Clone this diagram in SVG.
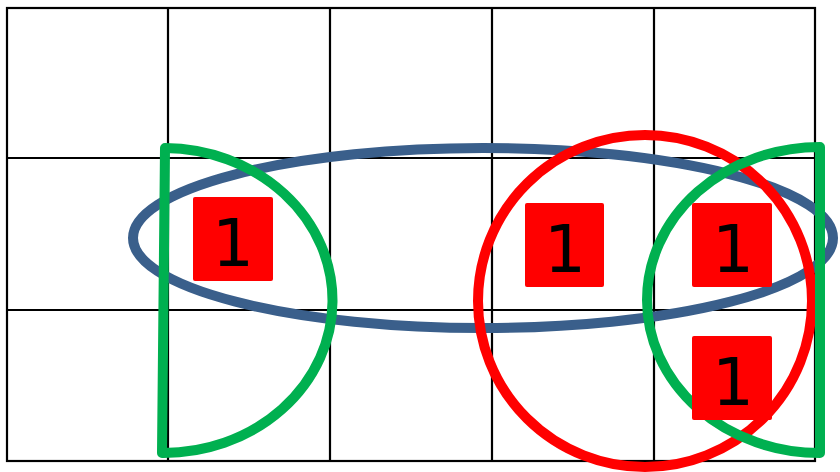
<svg xmlns="http://www.w3.org/2000/svg" width="840" height="472" viewBox="0 0 840 472">
<style>
.grid{stroke:#000;stroke-width:2.2;fill:none}
.blue{stroke:#3A5F8B;stroke-width:10;fill:none}
.red{stroke:#FF0000;stroke-width:10;fill:none}
.green{stroke:#00B050;stroke-width:10;fill:none;stroke-linejoin:round}
.cell{fill:#FF0000}
.one{font-family:"DejaVu Sans",sans-serif;font-size:66px;fill:#000;text-anchor:middle}
</style>
<rect width="840" height="472" fill="#fff"/>
<g id="grid" class="grid">
<rect x="7" y="8" width="808" height="453"/>
<line x1="168" y1="8" x2="168" y2="461"/>
<line x1="330" y1="8" x2="330" y2="461"/>
<line x1="492" y1="8" x2="492" y2="461"/>
<line x1="654" y1="8" x2="654" y2="461"/>
<line x1="7" y1="158" x2="815" y2="158"/>
<line x1="7" y1="310" x2="815" y2="310"/>
</g>
<g id="connectors">
<ellipse id="blue-loop" class="blue" cx="483" cy="238" rx="350" ry="90"/>
<ellipse id="red-loop" class="red" cx="645" cy="301" rx="167" ry="166"/>
<path id="green-left" class="green" d="M165,148 A169,152.5 0 0 1 162,453 Z"/>
<path id="green-right" class="green" d="M820,147 A173,153 0 0 0 820,453 Z"/>
</g>
<g id="cell1"><rect class="cell" x="193" y="197" width="80" height="84" rx="2"/><text class="one" x="233" y="266">1</text></g>
<g id="cell2"><rect class="cell" x="525" y="203" width="79" height="84" rx="2"/><text class="one" x="565" y="272">1</text></g>
<g id="cell3"><rect class="cell" x="692" y="203" width="80" height="84" rx="2"/><text class="one" x="733" y="272">1</text></g>
<g id="cell4"><rect class="cell" x="692" y="336" width="80" height="84" rx="2"/><text class="one" x="733" y="405">1</text></g>
</svg>
